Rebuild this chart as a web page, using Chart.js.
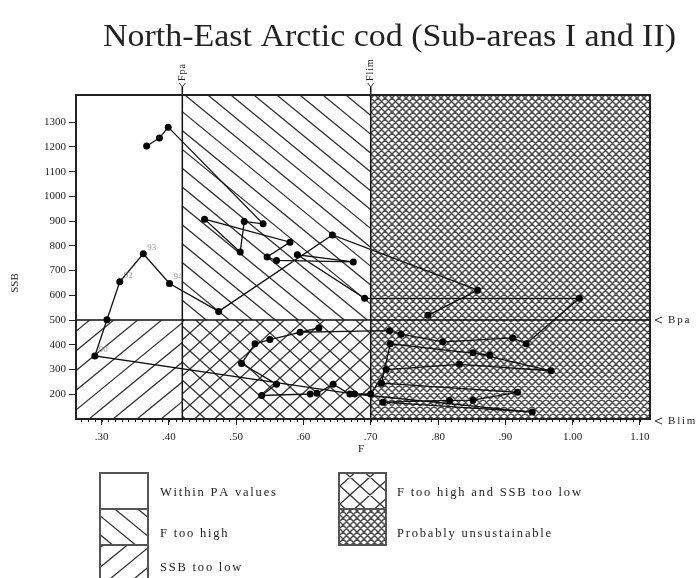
<!DOCTYPE html>
<html><head><meta charset="utf-8">
<script src="https://cdn.jsdelivr.net/npm/chart.js@4/dist/chart.umd.min.js"></script>
<style>html,body{margin:0;padding:0;background:#fff;}#wrap{width:696px;height:578px;}</style>
</head><body><div id="wrap"><canvas id="c" width="696" height="578"></canvas></div>
<script>
// ---- data ----
const years = [1946,1947,1948,1949,1950,1951,1952,1953,1954,1955,1956,1957,1958,1959,1960,1961,1962,1963,1964,1965,1966,1967,1968,1969,1970,1971,1972,1973,1974,1975,1976,1977,1978,1979,1980,1981,1982,1983,1984,1985,1986,1987,1988,1989,1990,1991,1992,1993,1994,1995,1996,1997,1998];
const fValues = [0.367,0.386,0.399,0.540,0.512,0.506,0.453,0.580,0.546,0.560,0.674,0.591,0.691,1.010,0.931,0.911,0.807,0.745,0.728,0.595,0.623,0.550,0.528,0.508,0.560,0.538,0.610,0.620,0.644,0.669,0.700,0.723,0.832,0.968,0.852,0.877,0.729,0.716,0.918,0.852,0.817,0.718,0.940,0.676,0.290,0.308,0.327,0.362,0.401,0.474,0.643,0.859,0.785];
const ssbValues = [1204,1236,1280,889,899,775,908,815,755,741,735,764,588,588,404,428,412,443,457,451,468,421,404,324,241,195,201,204,241,201,201,300,321,295,368,358,404,245,208,176,175,168,128,201,355,501,655,768,648,535,844,621,519];
const labelledYears = [1990,1992,1993,1994];
const xTicks = [0.30,0.40,0.50,0.60,0.70,0.80,0.90,1.00,1.10];
const yTicks = [200,300,400,500,600,700,800,900,1000,1100,1200,1300];
const F_PA = 0.42, F_LIM = 0.70, B_PA = 500, B_LIM = 112;
const titleText = 'North-East Arctic cod (Sub-areas I and II)';
const xTitle = 'F', yTitle = 'SSB';
const legendLabels = ['Within PA values','F too high','SSB too low','F too high and SSB too low','Probably unsustainable'];

const FONT = "'Liberation Serif','Times New Roman',serif";

function hatch(ctx, x0, y0, x1, y1, slopes, hs, lw, color){
  ctx.save();
  ctx.beginPath(); ctx.rect(x0, y0, x1-x0, y1-y0); ctx.clip();
  ctx.strokeStyle = color; ctx.lineWidth = lw;
  ctx.beginPath();
  for (const s of slopes){
    const cs = [x0 - y0/s, x1 - y0/s, x0 - y1/s, x1 - y1/s];
    const cmin = Math.min(...cs) - hs, cmax = Math.max(...cs) + hs;
    for (let c = Math.floor(cmin/hs)*hs; c <= cmax; c += hs){
      ctx.moveTo(c + y0/s, y0); ctx.lineTo(c + y1/s, y1);
    }
  }
  ctx.stroke();
  ctx.restore();
}
const patterns = {
  within: (ctx,x0,y0,x1,y1)=>{},
  fhigh: (ctx,x0,y0,x1,y1)=>hatch(ctx,x0,y0,x1,y1,[0.82],23,1.3,'#333'),
  ssblow: (ctx,x0,y0,x1,y1)=>hatch(ctx,x0,y0,x1,y1,[-0.82],24,1.3,'#333'),
  both: (ctx,x0,y0,x1,y1)=>hatch(ctx,x0,y0,x1,y1,[0.9,-0.9],20,1.3,'#333'),
  unsust: (ctx,x0,y0,x1,y1)=>hatch(ctx,x0,y0,x1,y1,[1,-1],7,1.5,'#4a4a4a')
};
function spaced(ctx, text, x, y, sp){
  let cx = x;
  for (const ch of text){ ctx.fillText(ch, cx, y); cx += ctx.measureText(ch).width + sp; }
}

const zonesPlugin = {
  id: 'zones',
  beforeDatasetsDraw(chart){
    const {ctx, chartArea:a, scales:{x, y}} = chart;
    const xFpa = x.getPixelForValue(F_PA), xFlim = x.getPixelForValue(F_LIM);
    const yBpa = y.getPixelForValue(B_PA);
    patterns.fhigh(ctx, xFpa, a.top, xFlim, yBpa);
    patterns.ssblow(ctx, a.left, yBpa, xFpa, a.bottom);
    patterns.both(ctx, xFpa, yBpa, xFlim, a.bottom);
    patterns.unsust(ctx, xFlim, a.top, a.right, a.bottom);
    ctx.save();
    ctx.strokeStyle = '#111'; ctx.lineWidth = 1.5;
    ctx.beginPath();
    ctx.moveTo(xFpa, a.top - 8); ctx.lineTo(xFpa, a.bottom);
    ctx.moveTo(xFlim, a.top - 8); ctx.lineTo(xFlim, a.bottom);
    ctx.moveTo(a.left, yBpa); ctx.lineTo(a.right, yBpa);
    ctx.stroke();
    // minor ticks along bottom
    ctx.lineWidth = 1;
    ctx.beginPath();
    for (let v = 0.27; v <= 1.11; v += 0.01){
      const px = Math.round(x.getPixelForValue(v)) + 0.5;
      ctx.moveTo(px, a.bottom); ctx.lineTo(px, a.bottom + 3);
    }
    ctx.stroke();
    // frame
    ctx.lineWidth = 2; ctx.strokeStyle = '#222';
    ctx.strokeRect(a.left, a.top, a.right - a.left, a.bottom - a.top);
    ctx.restore();
  },
  afterDraw(chart){
    const {ctx, chartArea:a, scales:{x, y}} = chart;
    ctx.save();
    ctx.fillStyle = '#222'; ctx.strokeStyle = '#333';
    // title
    ctx.font = `32px ${FONT}`; ctx.textBaseline = 'alphabetic'; ctx.textAlign = 'left';
    const w = ctx.measureText(titleText).width;
    ctx.save(); ctx.translate(103, 46); ctx.scale(573 / w, 1); ctx.fillText(titleText, 0, 0); ctx.restore();
    // Fpa / Flim markers and labels
    ctx.lineWidth = 1;
    [[F_PA,'Fpa'],[F_LIM,'Flim']].forEach(([v,t])=>{
      const px = x.getPixelForValue(v);
      ctx.beginPath(); ctx.moveTo(px-3, a.top-12); ctx.lineTo(px, a.top-8); ctx.lineTo(px+3, a.top-12); ctx.stroke();
      ctx.save(); ctx.translate(px, a.top-14); ctx.rotate(-Math.PI/2);
      ctx.font = `10px ${FONT}`; ctx.textBaseline = 'middle'; ctx.textAlign = 'left';
      spaced(ctx, t, 0, 0, 1); ctx.restore();
    });
    // Bpa / Blim labels
    [[B_PA,'Bpa'],[B_LIM,'Blim']].forEach(([v,t])=>{
      const py = t === 'Blim' ? a.bottom + 2 : y.getPixelForValue(v);
      ctx.beginPath(); ctx.moveTo(a.right+12, py-3); ctx.lineTo(a.right+5, py); ctx.lineTo(a.right+12, py+3); ctx.stroke();
      ctx.font = `11px ${FONT}`; ctx.textBaseline = 'middle'; ctx.textAlign = 'left';
      spaced(ctx, t, a.right+18, py, 1.8);
    });
    // axis titles
    ctx.font = `11px ${FONT}`; ctx.textAlign = 'center'; ctx.textBaseline = 'middle';
    ctx.fillText(xTitle, 361, 449);
    ctx.save(); ctx.translate(15, 283); ctx.rotate(-Math.PI/2); ctx.fillText(yTitle, 0, 0); ctx.restore();
    // year labels
    ctx.font = `9px ${FONT}`; ctx.fillStyle = '#999'; ctx.textAlign = 'left'; ctx.textBaseline = 'bottom';
    labelledYears.forEach(yr=>{
      const i = years.indexOf(yr);
      if (i < 0) return;
      const px = x.getPixelForValue(fValues[i]), py = y.getPixelForValue(ssbValues[i]);
      ctx.fillText(String(yr).slice(2), px + 4, py - 2);
    });
    // legend
    const boxes = [
      [100, 473, 48, 36, 'within', legendLabels[0], 160, 493],
      [100, 509, 48, 36, 'fhigh', legendLabels[1], 160, 534],
      [100, 545, 48, 36, 'ssblow', legendLabels[2], 160, 568],
      [339, 473, 47, 36, 'both', legendLabels[3], 397, 493],
      [339, 509, 47, 36, 'unsust', legendLabels[4], 397, 534]
    ];
    boxes.forEach(([bx,by,bw,bh,p,lab,tx,ty])=>{
      patterns[p](ctx, bx, by, bx+bw, by+bh);
      ctx.lineWidth = 2; ctx.strokeStyle = '#555';
      ctx.strokeRect(bx, by, bw, bh);
      ctx.fillStyle = '#222'; ctx.font = `12.5px ${FONT}`; ctx.textBaseline = 'middle'; ctx.textAlign = 'left';
      spaced(ctx, lab, tx, ty, 1.8);
    });
    ctx.restore();
  }
};

const fmtF = v => { const s = Number(v).toFixed(2); return v < 1 ? s.slice(1) : s; };

new Chart(document.getElementById('c'), {
  type: 'scatter',
  data: { datasets: [{
    data: fValues.map((f,i)=>({x:f, y:ssbValues[i]})),
    showLine: true, borderColor: '#111', borderWidth: 1.3,
    pointRadius: 3.5, pointBackgroundColor: '#000', pointBorderColor: '#000', pointBorderWidth: 0
  }]},
  options: {
    responsive: false, animation: false, devicePixelRatio: 1,
    layout: { padding: { left: 0, top: 95, right: 46, bottom: 129 } },
    plugins: { legend: {display:false}, title: {display:false}, tooltip: {enabled:false} },
    scales: {
      x: { type:'linear', min:0.262, max:1.115,
        afterBuildTicks: s => { s.ticks = xTicks.map(v=>({value:v})); },
        afterFit: s => { s.height = 30; },
        grid: { display:true, drawOnChartArea:false, drawTicks:true, tickLength:6, color:'#222', lineWidth:1 },
        border: { display:false },
        ticks: { padding:6, autoSkip:false, maxRotation:0, font:{family:FONT, size:11}, color:'#222', callback: v => fmtF(v) }
      },
      y: { type:'linear', min:100, max:1410,
        afterBuildTicks: s => { s.ticks = yTicks.map(v=>({value:v})); },
        afterFit: s => { s.width = 76; },
        grid: { display:true, drawOnChartArea:false, drawTicks:true, tickLength:7, color:'#222', lineWidth:1 },
        border: { display:false },
        ticks: { padding:3, autoSkip:false, font:{family:FONT, size:11}, color:'#222', callback: v => String(v) }
      }
    }
  },
  plugins: [zonesPlugin]
});
</script></body></html>
